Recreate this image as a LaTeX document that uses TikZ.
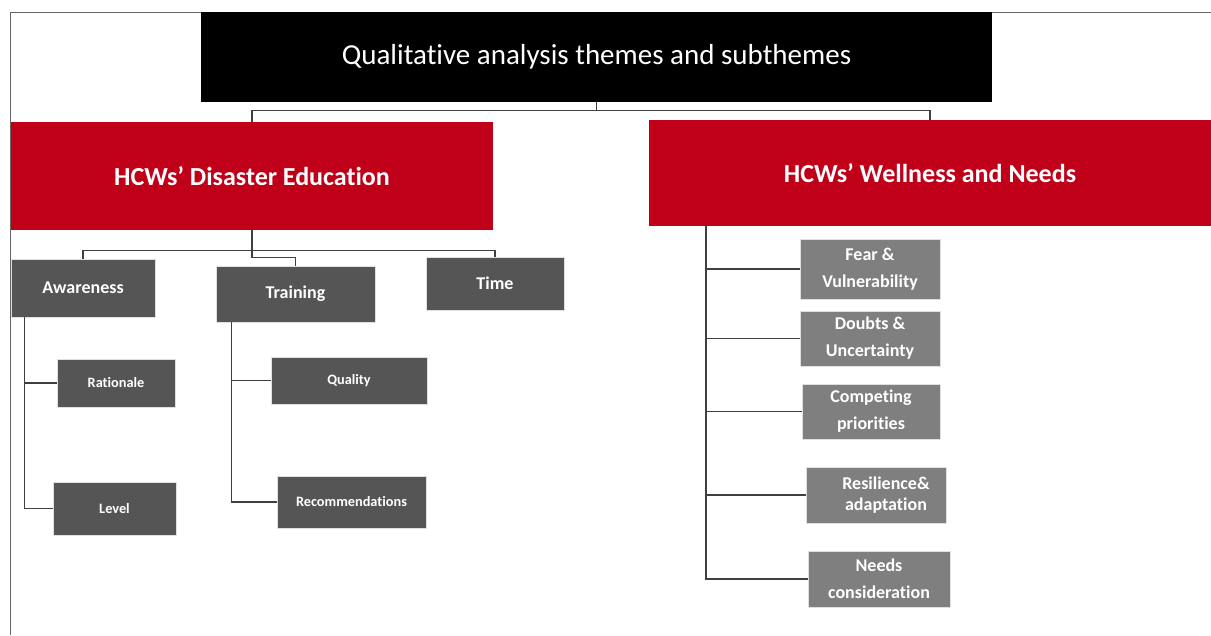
\documentclass[tikz,border=0pt]{standalone}
\usepackage{fontspec}
\setmainfont{Carlito}[Ligatures=NoCommon]
\usetikzlibrary{positioning}
\definecolor{themered}{HTML}{C00018}
\definecolor{subdark}{HTML}{555555}
\definecolor{sublight}{HTML}{7F7F7F}
\definecolor{wire}{HTML}{3F3F3F}

\begin{document}
\begin{tikzpicture}[x=1pt, y=-1pt,
  head/.style={fill=black, text=white, inner sep=0pt, font=\fontsize{29}{33}\selectfont},
  theme/.style={fill=themered, text=white, inner sep=0pt, font=\fontsize{26}{30}\selectfont\bfseries},
  subl/.style={fill=subdark, draw=black!12, line width=0.8pt, text=white, inner sep=0pt, align=center},
  subr/.style={fill=sublight, draw=black!12, line width=0.8pt, text=white, inner sep=0pt, align=center, font=\fontsize{18}{27}\selectfont\bfseries},
  link/.style={draw=wire, line width=1.4pt},
  frame/.style={draw=black!60, line width=1.4pt}]

  \useasboundingbox (0,0) rectangle (1211,635);
  \draw[frame] (1211,12.5) -- (10.5,12.5) -- (10.5,635);

  % Title and the two themes
  \node[head, minimum width=791pt, minimum height=90pt] (title) at (596.5,57) {Qualitative analysis themes and subthemes};
  \node[theme, minimum width=482pt, minimum height=108pt] (edu) at (252,176) {HCWs’ Disaster Education};
  \node[theme, minimum width=562pt, minimum height=106pt] (well) at (930,173) {HCWs’ Wellness and Needs};

  % Disaster education subthemes
  \node[subl, minimum width=144pt, minimum height=58pt, font=\fontsize{18}{21}\selectfont\bfseries] (aware) at (83,288) {Awareness};
  \node[subl, minimum width=159pt, minimum height=56pt, font=\fontsize{18}{21}\selectfont\bfseries] (train) at (295.5,294) {Training};
  \node[subl, minimum width=138pt, minimum height=53pt, font=\fontsize{18}{21}\selectfont\bfseries] (time) at (495,283.5) {Time};

  \node[subl, minimum width=118pt, minimum height=48pt, font=\fontsize{14.3}{17}\selectfont\bfseries] (ratio) at (116,383) {Rationale};
  \node[subl, minimum width=123pt, minimum height=53pt, font=\fontsize{14.3}{17}\selectfont\bfseries] (level) at (114.5,508.5) {Level};
  \node[subl, minimum width=156pt, minimum height=47pt, font=\fontsize{14.3}{17}\selectfont\bfseries] (quality) at (349,380.5) {Quality};
  \node[subl, minimum width=149pt, minimum height=52pt, font=\fontsize{14.3}{17}\selectfont\bfseries] (recom) at (351.5,502) {Recommendations};

  % Wellness subthemes
  \node[subr, minimum width=140pt, minimum height=60pt] (fear) at (870,269) {Fear \&\\Vulnerability};
  \node[subr, minimum width=140pt, minimum height=55pt] (doubt) at (870,338.5) {Doubts \&\\Uncertainty};
  \node[subr, minimum width=138pt, minimum height=55pt] (compet) at (871,411.5) {Competing\\priorities};
  \node[subr, minimum width=140pt, minimum height=56pt, font=\fontsize{18}{21}\selectfont\bfseries] (resil) at (876,495) {\hspace*{20pt}Resilience\&\\\hspace*{20pt}adaptation};
  \node[subr, minimum width=142pt, minimum height=56pt] (needs) at (879,579) {Needs\\consideration};

  % Connectors
  \draw[link] (title.south) -- ++(0,8) coordinate (tophub);
  \draw[link] (tophub) -| (edu.north);
  \draw[link] (tophub) -| (well.north);

  \draw[link] (edu.south) -- ++(0,20) coordinate (eduhub);
  \draw[link] (eduhub) -| (aware.north);
  \draw[link] (eduhub) -| (time.north);
  \draw[link] (eduhub) -- ++(0,7) -| (train.north);

  \foreach \kid in {ratio, level}
    \draw[link] ([xshift=14pt]aware.south west) |- (\kid.west);
  \foreach \kid in {quality, recom}
    \draw[link] ([xshift=16pt]train.south west) |- (\kid.west);
  \foreach \kid in {fear, doubt, compet, resil, needs}
    \draw[link] ([xshift=57pt]well.south west) |- (\kid.west);
\end{tikzpicture}
\end{document}
